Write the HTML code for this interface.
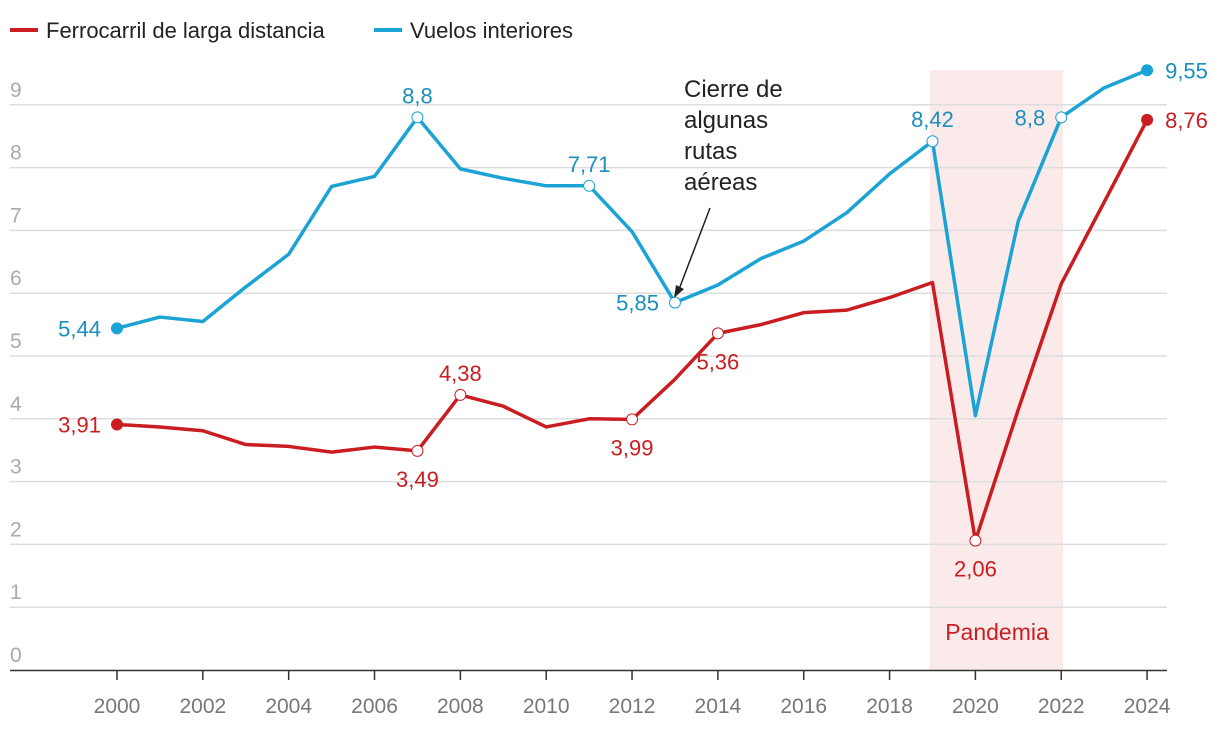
<!DOCTYPE html>
<html><head><meta charset="utf-8"><style>
body{margin:0;background:#fff;font-family:"Liberation Sans",sans-serif}
svg text{font-family:"Liberation Sans",sans-serif}
</style></head><body>
<svg id="chart" width="1220" height="730">
<g>
<line x1="10" y1="30" x2="38" y2="30" stroke="#c91d22" stroke-width="4"/>
<text x="46" y="38" font-size="22" fill="#222">Ferrocarril de larga distancia</text>
<line x1="374" y1="30" x2="402" y2="30" stroke="#1aa3d4" stroke-width="4"/>
<text x="410" y="38" font-size="22" fill="#222">Vuelos interiores</text>
</g>
<rect x="930" y="70" width="133" height="600" fill="#fbeaea"/>
<text x="997" y="640" font-size="23" fill="#c91d22" text-anchor="middle">Pandemia</text>
<g id="grid"></g><g id="marks"></g>
<text x="684" y="97" font-size="24" fill="#222"><tspan x="684">Cierre de</tspan><tspan x="684" dy="31">algunas</tspan><tspan x="684" dy="31">rutas</tspan><tspan x="684" dy="31">aéreas</tspan></text>
<line x1="710" y1="208" x2="678" y2="292" stroke="#222" stroke-width="1.5"/>
<path d="M674,298 L676,285 L684,289 Z" fill="#222"/>
</svg>
<script>
const years=[2000,2001,2002,2003,2004,2005,2006,2007,2008,2009,2010,2011,2012,2013,2014,2015,2016,2017,2018,2019,2020,2021,2022,2023,2024];
const vuelos=[5.44,5.62,5.55,6.1,6.62,7.7,7.86,8.8,7.98,7.83,7.71,7.71,6.98,5.85,6.13,6.55,6.83,7.28,7.9,8.42,4.05,7.15,8.8,9.27,9.55];
const ferro=[3.91,3.87,3.81,3.59,3.56,3.47,3.55,3.49,4.38,4.2,3.87,4.0,3.99,4.63,5.36,5.5,5.69,5.73,5.93,6.17,2.06,4.15,6.15,7.45,8.76];
const yTicks=[0,1,2,3,4,5,6,7,8,9];
const xTicks=[2000,2002,2004,2006,2008,2010,2012,2014,2016,2018,2020,2022,2024];
const vLabels=[[2000,'5,44','l'],[2007,'8,8','a'],[2011,'7,71','a'],[2013,'5,85','l'],[2019,'8,42','a'],[2022,'8,8','l'],[2024,'9,55','r']];
const fLabels=[[2000,'3,91','l'],[2007,'3,49','b'],[2008,'4,38','a'],[2012,'3,99','b'],[2014,'5,36','b'],[2020,'2,06','b'],[2024,'8,76','r']];
const NS='http://www.w3.org/2000/svg';
const x=v=>117+(v-2000)*42.92, y=v=>670-v*62.8;
function mk(t,a,p){const e=document.createElementNS(NS,t);for(const k in a)e.setAttribute(k,a[k]);p.appendChild(e);return e;}
const g=document.getElementById('grid'),m=document.getElementById('marks');
yTicks.forEach(t=>{
 if(t>0){const l=mk('line',{x1:10,x2:1167,y1:y(t),y2:y(t),stroke:'#ddd','stroke-width':1.5},g);
 
 }
 const tx=mk('text',{x:10,y:y(t)-8,'font-size':21,fill:'#aaa'},g);tx.textContent=t;
 
 
});
const ax=mk('line',{x1:10,x2:1167,y1:670.5,y2:670.5,stroke:'#333','stroke-width':1.5},g);


xTicks.forEach(t=>{
 const l=mk('line',{x1:x(t),x2:x(t),y1:670,y2:680,stroke:'#333','stroke-width':1.5},g);
 
 
 const tx=mk('text',{x:x(t),y:713,'font-size':21,fill:'#777','text-anchor':'middle'},g);tx.textContent=t;
 
 
});
function series(vals,col,name,labels,lc){
 const p=mk('polyline',{points:vals.map((v,i)=>x(years[i])+','+y(v)).join(' '),fill:'none',stroke:col,'stroke-width':3.5,'stroke-linejoin':'round'},m);
 
 
 labels.forEach(([yr,txt,pos])=>{
  const i=years.indexOf(yr),cx=x(yr),cy=y(vals[i]);
  const end=(i===0||i===years.length-1);
  const c=mk('circle',{cx:cx,cy:cy,r:end?6:5.5,fill:end?col:'#fff',stroke:end?'none':col,'stroke-width':1},m);
  
  
  let lx=cx,ly=cy+8,anc='middle';
  if(pos==='l'){lx=cx-16;anc='end';}
  if(pos==='r'){lx=cx+18;anc='start';}
  if(pos==='a'){ly=cy-14;}
  if(pos==='b'){ly=cy+36;}
  const t=mk('text',{x:lx,y:ly,'font-size':22,fill:lc,'text-anchor':anc},m);t.textContent=txt;
  
  
 });
}
series(vuelos,'#1aa3d4','vuelos',vLabels,'#1a8fbd');
series(ferro,'#c91d22','ferrocarril',fLabels,'#c91d22');
</script>
</body></html>
